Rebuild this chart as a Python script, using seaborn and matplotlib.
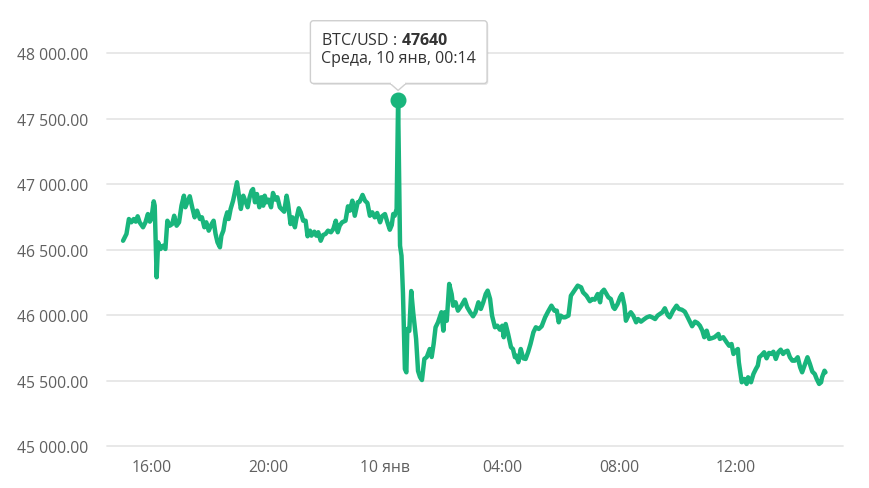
import matplotlib
matplotlib.use("Agg")
import numpy as np
import pandas as pd
import matplotlib.pyplot as plt
import matplotlib.dates as mdates
import matplotlib.ticker as mticker
import matplotlib.transforms as mtransforms
from matplotlib.patches import FancyBboxPatch, Polygon, Rectangle
import seaborn as sns

# ---------------- data ----------------
START = "2024-01-09 15:00"
minutes = [
    1, 8, 13, 18, 23, 27, 31, 35, 42, 47,
    52, 56, 59, 64, 66, 70, 73, 78, 83, 88,
    92, 97, 102, 106, 111, 116, 121, 126, 129, 133,
    138, 143, 148, 153, 159, 163, 168, 172, 177, 183,
    187, 191, 195, 200, 203, 207, 211, 215, 218, 222,
    227, 232, 235, 239, 243, 248, 253, 257, 261, 265,
    268, 272, 276, 281, 285, 289,
    292, 296, 300, 305, 309, 314, 318, 323, 328, 332,
    337, 340, 345, 349, 354, 357, 362, 366, 371, 376,
    380, 385, 388, 394, 398, 402, 407, 412, 417, 422,
    428, 433, 438, 442, 446, 451, 458, 463, 467, 472,
    477, 483, 487, 493, 498, 503, 508, 513, 518, 523,
    529, 533, 539, 544, 549, 553, 556, 559, 563, 566,
    570, 573, 576, 580, 583, 585, 589, 593, 597, 603,
    607, 611, 615, 620, 625, 631, 635, 639, 643, 648,
    655, 659, 662, 666, 671, 676, 679, 684, 689, 696,
    703, 708, 714, 720, 725, 731, 736, 741, 746, 750,
    755, 759, 765, 770, 775, 780, 783, 787, 792, 798,
    802, 806, 809, 813, 818, 823, 828, 833, 838, 844,
    849, 855, 861, 868, 874, 881, 887, 892, 896, 900, 905,
    909, 916, 921, 928, 935, 942, 946, 953, 960, 965,
    970, 976, 981, 984, 989, 994, 998, 1003, 1008, 1011,
    1017, 1022, 1026, 1031, 1034, 1039, 1044, 1049, 1055, 1059,
    1065, 1072, 1077, 1083, 1088, 1094, 1099, 1104, 1109, 1114,
    1120, 1124, 1131, 1138, 1143, 1149, 1155, 1161, 1166, 1170,
    1176, 1181, 1186, 1191, 1195, 1200, 1205, 1210, 1216,
    1224, 1227, 1234, 1241, 1246, 1251, 1255, 1260, 1264, 1266,
    1272, 1277, 1282, 1285, 1291, 1296, 1301, 1305, 1308, 1313,
    1318, 1323, 1328, 1333, 1337, 1342, 1347, 1352, 1357, 1361,
    1366, 1371, 1376, 1381, 1387, 1392, 1396, 1402, 1407, 1412,
    1417, 1422, 1426, 1431, 1435, 1437, 1442, 1444,
]
prices = [
    46568, 46620, 46734, 46709, 46734, 46714, 46755, 46709, 46671, 46709,
    46772, 46714, 46734, 46869, 46836, 46289, 46556, 46505, 46530, 46505,
    46721, 46683, 46696, 46759, 46683, 46709, 46836, 46912, 46824, 46862,
    46908, 46824, 46747, 46798, 46734, 46747, 46671, 46709, 46645, 46696,
    46721, 46620, 46556, 46518, 46607, 46645, 46734, 46785, 46734, 46811,
    46874, 46963, 47015, 46912, 46811, 46912, 46862, 46824, 46900, 46950,
    46963, 46862, 46925, 46824, 46900, 46836,
    46912, 46862, 46882, 46824, 46933, 46882, 46900, 46824, 46805, 46790,
    46912, 46849, 46696, 46747, 46671, 46734, 46816, 46785, 46721, 46721,
    46602, 46645, 46607, 46637, 46607, 46633, 46568, 46612, 46620, 46645,
    46633, 46658, 46721, 46633, 46683, 46709, 46721, 46831, 46798, 46874,
    46759, 46862, 46866, 46918, 46874, 46856, 46759, 46785, 46747, 46780,
    46709, 46755, 46772, 46709, 46652, 46688, 46772, 46759, 46811, 47640,
    46530, 46454, 46169, 45588, 45563, 45894, 45879, 46184, 46022, 45818,
    45573, 45527, 45504, 45665, 45680, 45741, 45680, 45779, 45907, 45945,
    46022, 45881, 46022, 45957, 46238, 46161, 46072, 46098, 46034, 46072,
    46118, 46060, 46022, 45991, 46022, 46098, 46047, 46098, 46161, 46187,
    46123, 45996, 45907, 45919, 45889, 45919, 45831, 45932, 45856, 45754,
    45741, 45678, 45690, 45640, 45741, 45670, 45665, 45716, 45779, 45869,
    45907, 45894, 45915, 45983, 46026, 46072, 46034, 46034, 45945, 45996, 45983,
    45983, 45996, 46148, 46187, 46225, 46212, 46174, 46148, 46106, 46123,
    46118, 46161, 46098, 46174, 46194, 46161, 46136, 46123, 46060, 46047,
    46085, 46136, 46161, 46072, 45957, 45996, 46022, 45996, 45945, 45970,
    45950, 45970, 45983, 45991, 45983, 45970, 45996, 46009, 46022, 46052,
    45999, 45983, 46034, 46072, 46047, 46041, 46026, 45983, 45945, 45915,
    45950, 45940, 45919, 45881, 45831, 45881, 45818, 45823, 45831,
    45856, 45818, 45831, 45792, 45766, 45779, 45703, 45728, 45741, 45640,
    45487, 45512, 45474, 45525, 45487, 45550, 45588, 45614, 45678, 45695,
    45716, 45670, 45711, 45703, 45720, 45665, 45716, 45736, 45703, 45720,
    45728, 45678, 45652, 45652, 45678, 45601, 45563, 45627, 45678, 45627,
    45568, 45550, 45512, 45474, 45487, 45525, 45575, 45563,
]
y_ticks = [45000, 45500, 46000, 46500, 47000, 47500, 48000]
tick_hours = [0, 4, 8, 12, 16, 20]
months_ru = ["янв", "фев", "мар", "апр", "мая", "июн",
             "июл", "авг", "сен", "окт", "ноя", "дек"]
pair_label = "BTC/USD"
tooltip_date = "Среда, 10 янв, 00:14"

GREEN = "#19b57c"
TICK_COLOR = "#606060"
GRID_COLOR = "#e6e6e6"

# ---------------- frame ----------------
start = pd.Timestamp(START)
df = pd.DataFrame({
    "time": start + pd.to_timedelta(minutes, unit="min"),
    "price": prices,
})

sns.set_theme(style="white")
plt.rcParams["font.family"] = ["Open Sans", "DejaVu Sans"]
plt.rcParams["mathtext.fontset"] = "custom"
plt.rcParams["mathtext.rm"] = "Open Sans"
plt.rcParams["mathtext.bf"] = "Open Sans:bold"

fig = plt.figure(figsize=(8.7, 4.89), dpi=100)
ax = fig.add_axes([107 / 870, 1 - 447 / 489, (843 - 107) / 870, (447 - 54.3) / 489])

sns.lineplot(data=df, x="time", y="price", color=GREEN, linewidth=3.2,
             ax=ax, zorder=3)
for ln in ax.lines:
    ln.set_solid_joinstyle("round")
    ln.set_solid_capstyle("round")

# spike marker
i_max = df["price"].idxmax()
t_max = df.loc[i_max, "time"]
p_max = df.loc[i_max, "price"]
ax.plot([t_max], [p_max], marker="o", markersize=10.5, color=GREEN,
        zorder=4, clip_on=False)

# axes styling
ax.set_xlim(start - pd.Timedelta(minutes=32), start + pd.Timedelta(minutes=1480))
ax.set_ylim(y_ticks[0], y_ticks[-1])
ax.set_yticks(y_ticks)
ax.yaxis.set_major_formatter(
    mticker.FuncFormatter(lambda v, p: f"{v:,.2f}".replace(",", " ")))


def fmt_x(v, pos):
    d = mdates.num2date(v)
    if d.hour == 0 and d.minute == 0:
        return f"{d.day} {months_ru[d.month - 1]}"
    return d.strftime("%H:%M")


ax.xaxis.set_major_locator(mdates.HourLocator(byhour=tick_hours))
ax.xaxis.set_major_formatter(mticker.FuncFormatter(fmt_x))

ax.set_xlabel("")
ax.set_ylabel("")
for s in ax.spines.values():
    s.set_visible(False)
ax.grid(False)
ax.yaxis.grid(True, color=GRID_COLOR, linewidth=1.3, zorder=0)
for gl in ax.get_ygridlines():
    gl.set_clip_on(False)
ax.tick_params(axis="both", length=0, colors=TICK_COLOR, labelsize=11.3)
ax.tick_params(axis="y", pad=13.5)
ax.tick_params(axis="x", pad=9)

# ---------------- tooltip ----------------
trans = fig.dpi_scale_trans + mtransforms.ScaledTranslation(
    mdates.date2num(t_max), p_max, ax.transData)

shadow = FancyBboxPatch((-0.865, 0.155), 1.767, 0.627,
                        boxstyle="round,pad=0,rounding_size=0.03",
                        fc="#000000", ec="none", alpha=0.10,
                        transform=trans, clip_on=False, zorder=5)
fig.add_artist(shadow)
box = FancyBboxPatch((-0.877, 0.17), 1.767, 0.627,
                     boxstyle="round,pad=0,rounding_size=0.03",
                     fc="white", ec="#cfcfcf", lw=1.0,
                     transform=trans, clip_on=False, zorder=6)
fig.add_artist(box)
notch = Polygon([(-0.08, 0.17), (0.0, 0.10), (0.08, 0.17)], closed=False,
                fc="white", ec="#cfcfcf", lw=1.0,
                transform=trans, clip_on=False, zorder=7)
fig.add_artist(notch)
cover = Rectangle((-0.072, 0.162), 0.144, 0.02, fc="white", ec="none",
                  transform=trans, clip_on=False, zorder=7)
fig.add_artist(cover)

fig.text(-0.775, 0.56, f"{pair_label} :" + r"$\ \mathbf{" + f"{p_max}" + "}$",
         transform=trans, fontsize=11.5, color="#333333", va="baseline",
         ha="left", zorder=8)
fig.text(-0.775, 0.38, tooltip_date, transform=trans, fontsize=11.5,
         color="#333333", va="baseline", ha="left", zorder=8)

fig.savefig("out.png", dpi=100, facecolor="white")
